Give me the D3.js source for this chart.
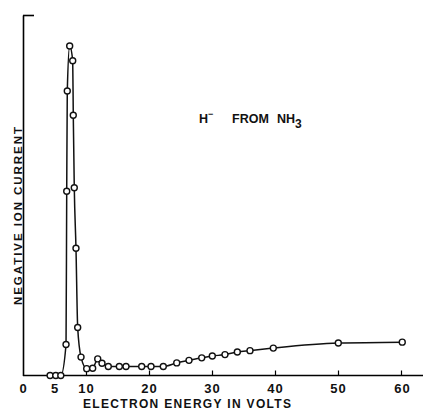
<!DOCTYPE html>
<html>
<head>
<meta charset="utf-8">
<script src="https://cdn.jsdelivr.net/npm/d3@7"></script>
<style>
  body { margin: 0; background: #fff; }
  text { font-family: "Liberation Sans", Arial, sans-serif; font-weight: bold; fill: #111; }
</style>
</head>
<body>
<div id="chart"></div>
<script>
// electron energy (volts) of every measured point
const energy = [4.3, 5.2, 6.0, 6.83, 6.94, 7.03, 7.41, 7.89, 7.98, 8.14, 8.41, 8.68, 9.21, 10.11, 11.06, 11.86, 12.54, 13.54, 15.29, 16.35, 18.84, 20.32, 22.27, 24.4, 26.35, 28.37, 30.05, 32.06, 34.02, 36.03, 39.73, 50.05, 60.2]
// negative ion current, arbitrary units (0..100 = axis height)
const current = [0, 0, 0, 8.6, 51.1, 78.9, 91.4, 87.3, 72.2, 52.1, 35.3, 13.3, 5.1, 1.9, 2.0, 4.6, 3.4, 2.5, 2.5, 2.5, 2.5, 2.5, 2.5, 3.5, 4.2, 4.9, 5.4, 5.8, 6.5, 6.9, 7.6, 9.0, 9.25]

const xTickLabels = [0, 5, 10, 20, 30, 40, 50, 60]
const xTickMarks = [10, 20, 30, 40, 50, 60]

const xLabel = "ELECTRON ENERGY IN VOLTS"
const yLabel = "NEGATIVE ION CURRENT"

const width = 425
const height = 410

const svg = d3.select("#chart").append("svg")
  .attr("width", width)
  .attr("height", height)
  .attr("viewBox", [0, 0, width, height])

const x = d3.scaleLinear().domain([0, 60]).range([23, 401])
const y = d3.scaleLinear().domain([0, 100]).range([375.5, 15])

const data = energy.map((e, i) => ({e, c: current[i]}))

// x axis: ticks point up, long baseline runs off to the right
const xAxis = g => g
  .attr("transform", `translate(0,${y(0)})`)
  .call(d3.axisBottom(x).tickValues(xTickLabels).tickSizeInner(-5).tickSizeOuter(0).tickPadding(8))
  .call(g => g.select(".domain").attr("d", `M${x(0)},0H${width - 2}`).attr("stroke-width", 1.6))
  .call(g => g.selectAll(".tick line")
    .attr("stroke-width", 1.2)
    .attr("opacity", d => xTickMarks.includes(d) ? 1 : 0))
  .call(g => g.selectAll(".tick text")
    .attr("font-size", 13)
    .attr("font-family", null)
    .attr("letter-spacing", 1)
    .attr("dx", d => d === 60 ? 1 : 0))

const yAxis = g => g
  .attr("transform", `translate(${x(0)},0)`)
  .call(d3.axisLeft(y).tickValues([100]).tickSizeInner(-11).tickSizeOuter(0).tickFormat(""))
  .call(g => g.select(".domain").attr("stroke-width", 1.6))
  .call(g => g.selectAll(".tick line").attr("stroke-width", 1.6))

svg.append("g").call(xAxis)
svg.append("g").call(yAxis)

const line = d3.line()
  .x(d => x(d.e))
  .y(d => y(d.c))
  .curve(d3.curveMonotoneX)

svg.append("path")
  .datum(data)
  .attr("fill", "none")
  .attr("stroke", "#111")
  .attr("stroke-width", 1.5)
  .attr("d", line)

svg.append("g")
  .selectAll("circle")
  .data(data)
  .join("circle")
  .attr("cx", d => x(d.e))
  .attr("cy", d => y(d.c))
  .attr("r", 3)
  .attr("fill", "#fff")
  .attr("stroke", "#111")
  .attr("stroke-width", 1.4)

// labels
svg.append("text")
  .attr("x", 187)
  .attr("y", 408)
  .attr("font-size", 12)
  .attr("text-anchor", "middle")
  .attr("textLength", 208)
  .attr("lengthAdjust", "spacing")
  .text(xLabel)

svg.append("text")
  .attr("transform", `translate(22,216) rotate(-90)`)
  .attr("font-size", 11.5)
  .attr("text-anchor", "middle")
  .attr("textLength", 178)
  .attr("lengthAdjust", "spacing")
  .text(yLabel)

const t = svg.append("text")
  .attr("y", 123)
  .attr("font-size", 12.5)
t.append("tspan").attr("x", 199).text("H")
t.append("tspan").attr("dy", -6).attr("font-size", 9).text("\u2212")
t.append("tspan").attr("x", 232).attr("dy", 6).text("FROM")
t.append("tspan").attr("x", 277).text("NH")
t.append("tspan").attr("dy", 5).attr("font-size", 12).text("3")
</script>
</body>
</html>
